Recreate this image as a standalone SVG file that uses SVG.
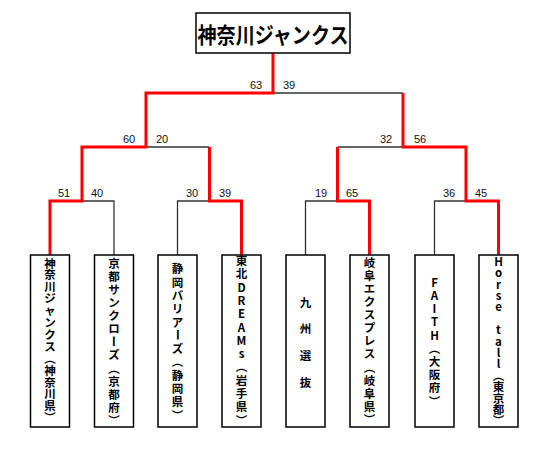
<svg xmlns="http://www.w3.org/2000/svg" width="550" height="457" viewBox="0 0 550 457">
<style>
.box{fill:#fff;stroke:#000;stroke-width:1.5}
.blk{fill:none;stroke:#333;stroke-width:1.3}
.red{fill:none;stroke:#ff0000;stroke-width:3;stroke-linejoin:miter}
.sc{font-family:"Liberation Sans","Noto Sans",sans-serif;font-size:11px;fill:#111;text-anchor:middle}
.nm{font-family:"Noto Sans CJK JP","Noto Sans CJK SC",sans-serif;font-size:11.5px;font-weight:bold;fill:#000;text-anchor:middle;dominant-baseline:central}
.ttl{font-family:"Noto Sans CJK JP","Noto Sans CJK SC",sans-serif;font-size:22px;font-weight:bold;fill:#000;text-anchor:middle;dominant-baseline:central}
</style>
<rect width="550" height="457" fill="#fff"/>
<g id="connectors">
<path class="blk" d="M273 93H403M146 147H209.5M337.5 147H403M82 201H114V255M177.5 255V201H209.5M305.5 255V201H337.5M434.5 255V201H466"/>
<path class="red" d="M273 53V93H146V147H82V201H50V255"/>
<path class="red" d="M209.5 147V201H241.5V255"/>
<path class="red" d="M403 93V147H466V201H498.5V255"/>
<path class="red" d="M337.5 147V201H369.5V255"/>
</g>
<g id="scores">
<text class="sc" x="256" y="89">63</text><text class="sc" x="289" y="89">39</text>
<text class="sc" x="129" y="143">60</text><text class="sc" x="162" y="143">20</text>
<text class="sc" x="386" y="143">32</text><text class="sc" x="420" y="143">56</text>
<text class="sc" x="64" y="197">51</text><text class="sc" x="97" y="197">40</text>
<text class="sc" x="192" y="197">30</text><text class="sc" x="225" y="197">39</text>
<text class="sc" x="321" y="197">19</text><text class="sc" x="352" y="197">65</text>
<text class="sc" x="449" y="197">36</text><text class="sc" x="481" y="197">45</text>
</g>
<g id="title">
<rect class="box" x="196" y="13" width="154" height="40"/>
<text class="ttl" x="273" y="33" textLength="151" lengthAdjust="spacingAndGlyphs">神奈川ジャンクス</text>
</g>
<g id="team1">
<rect class="box" x="30.5" y="255" width="39" height="172"/>
<text class="nm"><tspan x="50" y="262.5">神</tspan><tspan x="50" y="274.4">奈</tspan><tspan x="50" y="286.3">川</tspan><tspan x="50" y="298.2">ジ</tspan><tspan x="50" y="310.1">ャ</tspan><tspan x="50" y="322">ン</tspan><tspan x="50" y="333.9">ク</tspan><tspan x="50" y="345.8">ス</tspan><tspan x="50" y="357.7">︵</tspan><tspan x="50" y="369.6">神</tspan><tspan x="50" y="381.5">奈</tspan><tspan x="50" y="393.4">川</tspan><tspan x="50" y="405.3">県</tspan><tspan x="50" y="417.2">︶</tspan></text>
</g>
<g id="team2">
<rect class="box" x="94.5" y="255" width="39" height="172"/>
<text class="nm"><tspan x="114" y="262.7">京</tspan><tspan x="114" y="275.8">都</tspan><tspan x="114" y="288.9">サ</tspan><tspan x="114" y="302">ン</tspan><tspan x="114" y="315.1">ク</tspan><tspan x="114" y="328.2">ロ</tspan><tspan x="114" y="354.4">ズ</tspan><tspan x="114" y="367.5">︵</tspan><tspan x="114" y="380.6">京</tspan><tspan x="114" y="393.7">都</tspan><tspan x="114" y="406.8">府</tspan><tspan x="114" y="419.9">︶</tspan></text>
<text class="nm" transform="rotate(90 114 341.3)" x="114" y="341.3">ー</text>
</g>
<g id="team3">
<rect class="box" x="158" y="255" width="39" height="172"/>
<text class="nm"><tspan x="177.5" y="268.3">静</tspan><tspan x="177.5" y="281.6">岡</tspan><tspan x="177.5" y="294.9">バ</tspan><tspan x="177.5" y="308.2">リ</tspan><tspan x="177.5" y="321.5">ア</tspan><tspan x="177.5" y="348.1">ズ</tspan><tspan x="177.5" y="361.4">︵</tspan><tspan x="177.5" y="374.7">静</tspan><tspan x="177.5" y="388">岡</tspan><tspan x="177.5" y="401.3">県</tspan><tspan x="177.5" y="414.6">︶</tspan></text>
<text class="nm" transform="rotate(90 177.5 334.8)" x="177.5" y="334.8">ー</text>
</g>
<g id="team4">
<rect class="box" x="222" y="255" width="39" height="172"/>
<text class="nm"><tspan x="241.5" y="260">東</tspan><tspan x="241.5" y="273.3">北</tspan><tspan x="241.5" y="286.6">D</tspan><tspan x="241.5" y="299.9">R</tspan><tspan x="241.5" y="313.2">E</tspan><tspan x="241.5" y="326.5">A</tspan><tspan x="241.5" y="339.8">M</tspan><tspan x="241.5" y="353.1">s</tspan><tspan x="241.5" y="366.4">︵</tspan><tspan x="241.5" y="379.7">岩</tspan><tspan x="241.5" y="393">手</tspan><tspan x="241.5" y="406.3">県</tspan><tspan x="241.5" y="419.6">︶</tspan></text>
</g>
<g id="team5">
<rect class="box" x="286" y="255" width="39" height="172"/>
<text class="nm"><tspan x="305.5" y="301.7">九</tspan><tspan x="305.5" y="328.3">州</tspan><tspan x="305.5" y="355">選</tspan><tspan x="305.5" y="381.7">抜</tspan></text>
</g>
<g id="team6">
<rect class="box" x="350" y="255" width="39" height="172"/>
<text class="nm"><tspan x="369.5" y="261.7">岐</tspan><tspan x="369.5" y="274.8">阜</tspan><tspan x="369.5" y="287.9">エ</tspan><tspan x="369.5" y="301">ク</tspan><tspan x="369.5" y="314.1">ス</tspan><tspan x="369.5" y="327.2">プ</tspan><tspan x="369.5" y="340.3">レ</tspan><tspan x="369.5" y="353.4">ス</tspan><tspan x="369.5" y="366.5">︵</tspan><tspan x="369.5" y="379.6">岐</tspan><tspan x="369.5" y="392.7">阜</tspan><tspan x="369.5" y="405.8">県</tspan><tspan x="369.5" y="418.9">︶</tspan></text>
</g>
<g id="team7">
<rect class="box" x="415" y="255" width="39" height="172"/>
<text class="nm"><tspan x="434.5" y="281.7">F</tspan><tspan x="434.5" y="294.9">A</tspan><tspan x="434.5" y="308.1">I</tspan><tspan x="434.5" y="321.3">T</tspan><tspan x="434.5" y="334.5">H</tspan><tspan x="434.5" y="347.7">︵</tspan><tspan x="434.5" y="360.9">大</tspan><tspan x="434.5" y="374.1">阪</tspan><tspan x="434.5" y="387.3">府</tspan><tspan x="434.5" y="400.5">︶</tspan></text>
</g>
<g id="team8">
<rect class="box" x="479" y="255" width="39" height="172"/>
<text class="nm"><tspan x="498.5" y="260.7">H</tspan><tspan x="498.5" y="272.1">o</tspan><tspan x="498.5" y="283.5">r</tspan><tspan x="498.5" y="294.9">s</tspan><tspan x="498.5" y="306.3">e</tspan><tspan x="498.5" y="329.1">t</tspan><tspan x="498.5" y="340.5">a</tspan><tspan x="498.5" y="351.9">l</tspan><tspan x="498.5" y="363.3">l</tspan><tspan x="498.5" y="374.7">︵</tspan><tspan x="498.5" y="386.1">東</tspan><tspan x="498.5" y="397.5">京</tspan><tspan x="498.5" y="408.9">都</tspan><tspan x="498.5" y="420.3">︶</tspan></text>
</g>
</svg>
